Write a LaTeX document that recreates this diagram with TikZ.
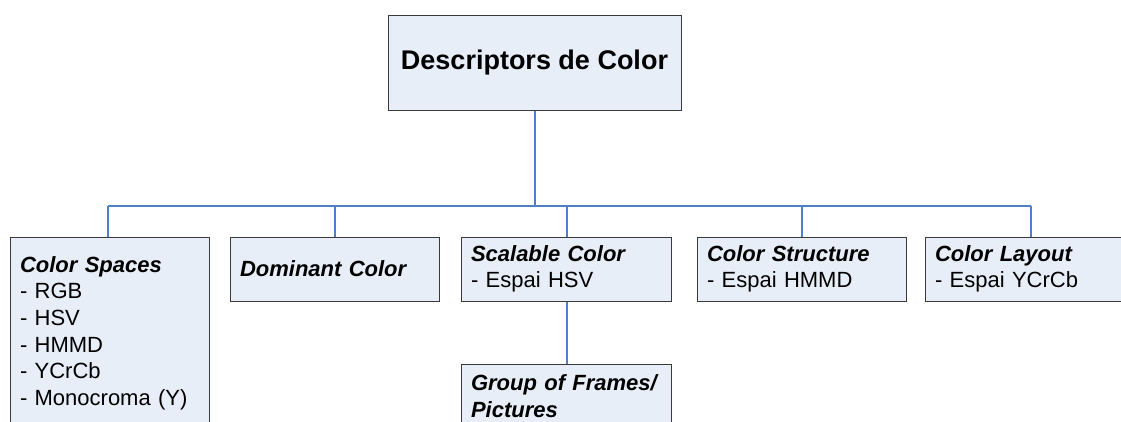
\documentclass[tikz,border=0pt]{standalone}
\usepackage{fontspec}
\setmainfont{Liberation Sans}
\definecolor{boxfill}{HTML}{E8EEF7}
\definecolor{boxedge}{HTML}{3A3A3A}
\definecolor{linkblue}{HTML}{4F7FC6}
\tikzset{
  descbox/.style={draw=boxedge, fill=boxfill, line width=1pt, inner ysep=0pt,
    inner xsep=10pt, align=left, minimum height=64pt,
    font=\fontsize{22}{26.6}\selectfont},
  titlebox/.style={draw=boxedge, fill=boxfill, line width=1pt, inner sep=0pt,
    align=center, minimum width=293pt, minimum height=95pt,
    font=\fontsize{27}{32}\selectfont\bfseries},
  link/.style={draw=linkblue, line width=2pt}
}
\begin{document}
\begin{tikzpicture}[x=1pt, y=-1pt]
  \useasboundingbox (0,0) rectangle (1121,421);
  \clip (0,0) rectangle (1121,421);

  % root
  \node[titlebox] (root) at (534.5,62.5) {Descriptors de Color};

  % descriptor boxes
  \node[descbox, text width=179pt, minimum height=192pt] (spaces) at (109.5,333)
    {\textbf{\textit{Color Spaces}}\\- RGB\\- HSV\\- HMMD\\- YCrCb\\- Monocroma (Y)};
  \node[descbox, text width=189pt] (dominant) at (334.5,269)
    {\textbf{\textit{Dominant Color}}};
  \node[descbox, text width=190pt] (scalable) at (566,269)
    {\textbf{\textit{Scalable Color}}\\- Espai HSV};
  \node[descbox, text width=189pt] (structure) at (801.5,269)
    {\textbf{\textit{Color Structure}}\\- Espai HMMD};
  \node[descbox, text width=190pt] (layout) at (1030,269)
    {\textbf{\textit{Color Layout}}\\- Espai YCrCb};
  \node[descbox, text width=190pt] (group) at (566,396)
    {\textbf{\textit{Group of Frames/}}\\\textbf{\textit{Pictures}}};

  % bus line
  \coordinate (bus) at (534,206);
  \draw[link] (root.south) -- (root.south |- bus);
  \draw[link] ([xshift=-1.5pt]spaces.north |- bus) -- ([xshift=1pt]layout.north |- bus);
  \foreach \n/\dx in {spaces/-1.5, dominant/0, scalable/1, structure/0, layout/1}
    \draw[link] ([xshift=\dx pt]\n.north) -- ([xshift=\dx pt]\n.north |- bus);
  \draw[link] ([xshift=1pt]scalable.south) -- ([xshift=1pt]group.north);
\end{tikzpicture}
\end{document}
